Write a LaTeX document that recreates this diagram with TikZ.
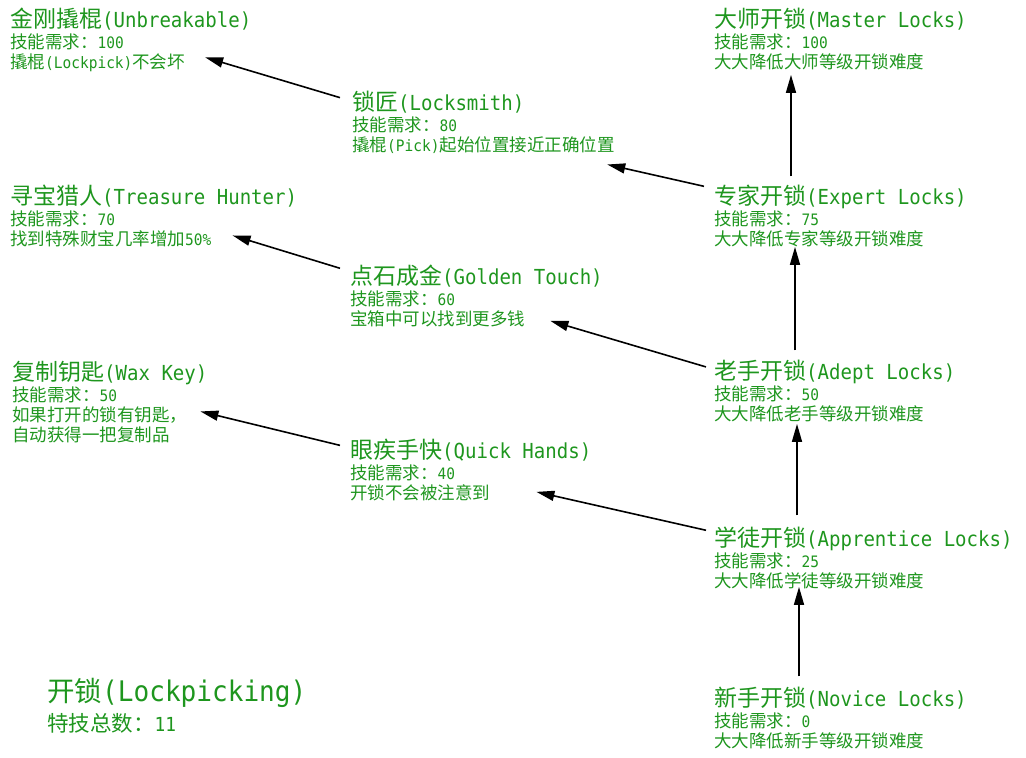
\documentclass[tikz,border=0pt]{standalone}
\usepackage{fontspec}
\setmainfont{Noto Sans CJK SC}
\newfontfamily\latn[Scale=0.9,FakeStretch=0.92]{DejaVu Sans Mono}
\newcommand{\asc}[1]{{\latn #1}}
\usetikzlibrary{arrows.meta,positioning}
\definecolor{skillgreen}{RGB}{30,150,30}

\begin{document}
\begin{tikzpicture}[x=1pt,y=-1pt,
    ttl/.style={anchor=base west,inner sep=0pt,text=skillgreen,
      font=\fontsize{23}{26}\selectfont},
    dsc/.style={inner sep=0pt,align=left,text=skillgreen,
      font=\fontsize{17.5}{20}\selectfont},
    arr/.style={-{Triangle[length=18pt,width=10pt]},line width=1.6pt}]
    \useasboundingbox (0,0) rectangle (1026,758);
    \node[ttl] (UB) at (10,27) {金刚撬棍\asc{(Unbreakable)}}; \node[dsc,
    below right=5pt and 0pt of UB.base west] (UBd)
    {\rule{0pt}{16pt}技能需求：\asc{100}\\撬棍\asc{(Lockpick)}不会坏};
    \node[ttl] (LS) at (352,110) {锁匠\asc{(Locksmith)}}; \node[dsc,
    below right=5pt and 0pt of LS.base west] (LSd)
    {\rule{0pt}{16pt}技能需求：\asc{80}\\撬棍\asc{(Pick)}起始位置接近正确位置};
    \node[ttl] (ML) at (714,27) {大师开锁\asc{(Master Locks)}}; \node[dsc,
    below right=5pt and 0pt of ML.base west] (MLd)
    {\rule{0pt}{16pt}技能需求：\asc{100}\\大大降低大师等级开锁难度};
    \node[ttl] (EL) at (714,204) {专家开锁\asc{(Expert Locks)}}; \node[dsc,
    below right=5pt and 0pt of EL.base west] (ELd)
    {\rule{0pt}{16pt}技能需求：\asc{75}\\大大降低专家等级开锁难度};
    \node[ttl] (TH) at (10,204) {寻宝猎人\asc{(Treasure Hunter)}}; \node[dsc,
    below right=5pt and 0pt of TH.base west] (THd)
    {\rule{0pt}{16pt}技能需求：\asc{70}\\找到特殊财宝几率增加\asc{50\%}};
    \node[ttl] (GT) at (350,284) {点石成金\asc{(Golden Touch)}}; \node[dsc,
    below right=5pt and 0pt of GT.base west] (GTd)
    {\rule{0pt}{16pt}技能需求：\asc{60}\\宝箱中可以找到更多钱};
    \node[ttl] (WK) at (12,380) {复制钥匙\asc{(Wax Key)}}; \node[dsc,
    below right=5pt and 0pt of WK.base west] (WKd)
    {\rule{0pt}{16pt}技能需求：\asc{50}\\如果打开的锁有钥匙，\\自动获得一把复制品};
    \node[ttl] (AL) at (714,379) {老手开锁\asc{(Adept Locks)}}; \node[dsc,
    below right=5pt and 0pt of AL.base west] (ALd)
    {\rule{0pt}{16pt}技能需求：\asc{50}\\大大降低老手等级开锁难度};
    \node[ttl] (QH) at (350,458) {眼疾手快\asc{(Quick Hands)}}; \node[dsc,
    below right=5pt and 0pt of QH.base west] (QHd)
    {\rule{0pt}{16pt}技能需求：\asc{40}\\开锁不会被注意到};
    \node[ttl] (AP) at (714,546) {学徒开锁\asc{(Apprentice Locks)}}; \node[dsc,
    below right=5pt and 0pt of AP.base west] (APd)
    {\rule{0pt}{16pt}技能需求：\asc{25}\\大大降低学徒等级开锁难度};
    \node[ttl] (NL) at (714,706) {新手开锁\asc{(Novice Locks)}}; \node[dsc,
    below right=5pt and 0pt of NL.base west] (NLd)
    {\rule{0pt}{16pt}技能需求：\asc{0}\\大大降低新手等级开锁难度};
    \node[ttl,font=\fontsize{27.5}{30}\selectfont] (LP) at (47,701)
    {开锁{\fontsize{31.5}{34}\selectfont\asc{(Lockpicking)}}}; \node[dsc,
    font=\fontsize{21.5}{24}\selectfont,below right=12pt and 0pt of LP.base west]
    (LPd) {\rule{0pt}{18pt}特技总数：\asc{11}};
    \draw[arr] ([xshift=-12pt,yshift=4pt]LS.west) --
    ([xshift=20pt,yshift=-5.5pt]UBd.east);
    \draw[arr] ([xshift=-10pt,yshift=-2pt]EL.north west) --
    ([xshift=-7.5pt,yshift=-11pt]LSd.south east);
    \draw[arr] ([xshift=77pt,yshift=8pt]EL.north west) --
    ([xshift=77pt,yshift=-5pt]MLd.south west);
    \draw[arr] ([xshift=81pt,yshift=9pt]AL.north west) --
    ([xshift=81pt]ELd.south west);
    \draw[arr] ([xshift=-10pt,yshift=-4pt]GT.north west) --
    ([xshift=21pt,yshift=-7.5pt]THd.east);
    \draw[arr] ([xshift=-8pt,yshift=4.5pt]AL.west) --
    ([xshift=25pt,yshift=6pt]GTd.south east);
    \draw[arr] ([xshift=-10pt,yshift=-7pt]QH.north west) --
    ([xshift=13pt,yshift=2.5pt]WKd.east);
    \draw[arr] ([xshift=-8pt,yshift=-4pt]AP.north west) --
    ([xshift=46pt,yshift=9pt]QHd.south east);
    \draw[arr] ([xshift=83pt,yshift=11pt]AP.north west) --
    ([xshift=83pt,yshift=-2pt]ALd.south west);
    \draw[arr] ([xshift=85pt,yshift=10pt]NL.north west) --
    ([xshift=85pt,yshift=2pt]APd.south west);
\end{tikzpicture}
\end{document}
